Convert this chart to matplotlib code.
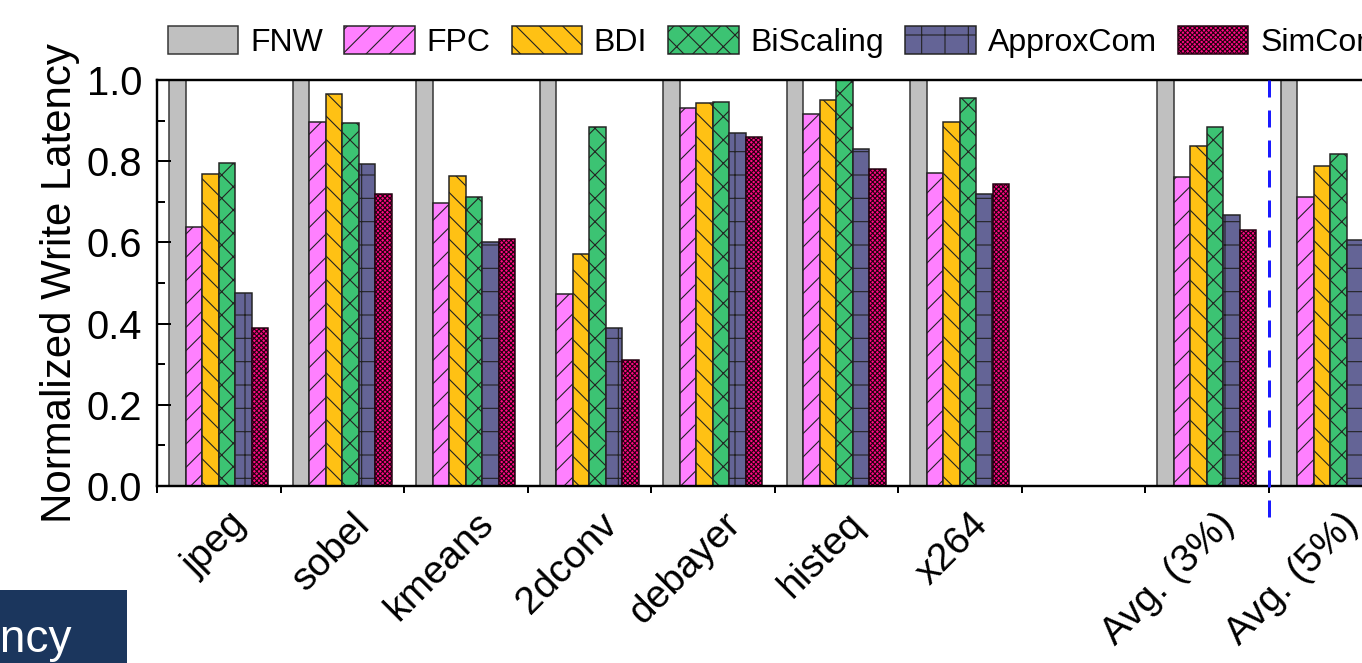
import numpy as np
import matplotlib
matplotlib.use("Agg")
import matplotlib.pyplot as plt
from matplotlib.ticker import MultipleLocator, FixedLocator, NullFormatter, FormatStrFormatter
from matplotlib.transforms import ScaledTranslation
from matplotlib.patches import Rectangle

# categories (empty slot between x264 and the averages)
benchmarks = ["jpeg", "sobel", "kmeans", "2dconv", "debayer", "histeq", "x264", "",
              "Avg. (3%)", "Avg. (5%)"]
nan = np.nan
fnw = [1.0, 1.0, 1.0, 1.0, 1.0, 1.0, 1.0, nan, 1.0, 1.0]
fpc = [0.639, 0.896, 0.696, 0.473, 0.930, 0.916, 0.772, nan, 0.760, 0.712]
bdi = [0.768, 0.965, 0.764, 0.571, 0.944, 0.951, 0.896, nan, 0.838, 0.789]
biscaling = [0.796, 0.893, 0.713, 0.884, 0.945, 1.0, 0.955, nan, 0.884, 0.817]
approxcom = [0.475, 0.792, 0.602, 0.389, 0.869, 0.831, 0.719, nan, 0.667, 0.606]
simcom = [0.388, 0.719, 0.608, 0.310, 0.859, 0.781, 0.745, nan, 0.630, 0.580]

names = ["FNW", "FPC", "BDI", "BiScaling", "ApproxCom", "SimCom"]
series = [fnw, fpc, bdi, biscaling, approxcom, simcom]
colors = ["#c0c0c0", "#ff80ff", "#ffc114", "#3cc373", "#646496", "#ff0a84"]
edges = ["#333333", "#222222", "#222222", "#222222", "#222222", "#22000f"]
hatches = ["", "//", "\\\\", "xx", "+", "xxxxxxxxxx"]

DPI = 140
W, H = 1362, 663


def px(p):
    # pixels -> points
    return p * 72 / DPI


plt.rcParams["font.family"] = ["Liberation Sans", "DejaVu Sans"]
plt.rcParams["hatch.linewidth"] = px(1.1)
plt.rcParams["lines.scale_dashes"] = False

fig = plt.figure(figsize=(W / DPI, H / DPI), dpi=DPI)
ax = fig.add_axes([157 / W, (H - 486) / H, 1235 / W, 406 / H])

x = np.arange(len(benchmarks))
bw = 0.1336
handles = []
for k in range(len(names)):
    b = ax.bar(x + (k - 2.5) * bw, series[k], bw, color=colors[k], edgecolor=edges[k],
               hatch=hatches[k], linewidth=px(1.5), label=names[k])
    handles.append(b)

ax.set_xlim(-0.5, len(benchmarks) - 0.5)
ax.set_ylim(0, 1.0)

# x: boundary ticks outward, labels at group centres
ax.xaxis.set_major_locator(FixedLocator(np.arange(-0.5, len(benchmarks))))
ax.xaxis.set_major_formatter(NullFormatter())
ax.xaxis.set_minor_locator(FixedLocator(x))
ax.set_xticklabels(benchmarks, minor=True, rotation=45, ha="right", va="top")
ax.tick_params(axis="x", which="major", direction="out", length=px(7), width=px(2))
ax.tick_params(axis="x", which="minor", length=0, pad=px(20), labelsize=px(39))
shift = ScaledTranslation(35 / DPI, 0, fig.dpi_scale_trans)
for lbl in ax.get_xticklabels(minor=True):
    lbl.set_transform(lbl.get_transform() + shift)

ax.yaxis.set_major_locator(MultipleLocator(0.2))
ax.yaxis.set_minor_locator(MultipleLocator(0.1))
ax.yaxis.set_major_formatter(FormatStrFormatter("%.1f"))
ax.tick_params(axis="y", which="major", direction="in", length=px(14), width=px(2),
               labelsize=px(40), pad=px(15))
ax.tick_params(axis="y", which="minor", direction="in", length=px(8), width=px(2))
ax.set_ylabel("Normalized Write Latency", fontsize=px(42), labelpad=px(6))

for s in ax.spines.values():
    s.set_linewidth(px(2.4))

# separator between the two averages
ax.plot([8.5, 8.5], [1.0, -0.09], color="#1a1aff", lw=px(3), dashes=(px(17), px(13)),
        clip_on=False, zorder=5)

fig.legend(handles=handles, loc="center left", bbox_to_anchor=(168 / W, 1 - 42 / H),
           ncol=6, frameon=False, fontsize=px(32), handlelength=2.2, handleheight=0.97,
           handletextpad=0.37, columnspacing=0.66, borderpad=0, borderaxespad=0)

# slide title box fragment, bottom-left
fig.patches.append(Rectangle((0, 0), 127 / W, 73 / H, transform=fig.transFigure,
                             facecolor="#1b365d", edgecolor="none"))
fig.text(72 / W, (H - 652) / H, "Latency", color="white", fontsize=px(46),
         ha="right", va="baseline")

fig.savefig("out.png", dpi=DPI)
